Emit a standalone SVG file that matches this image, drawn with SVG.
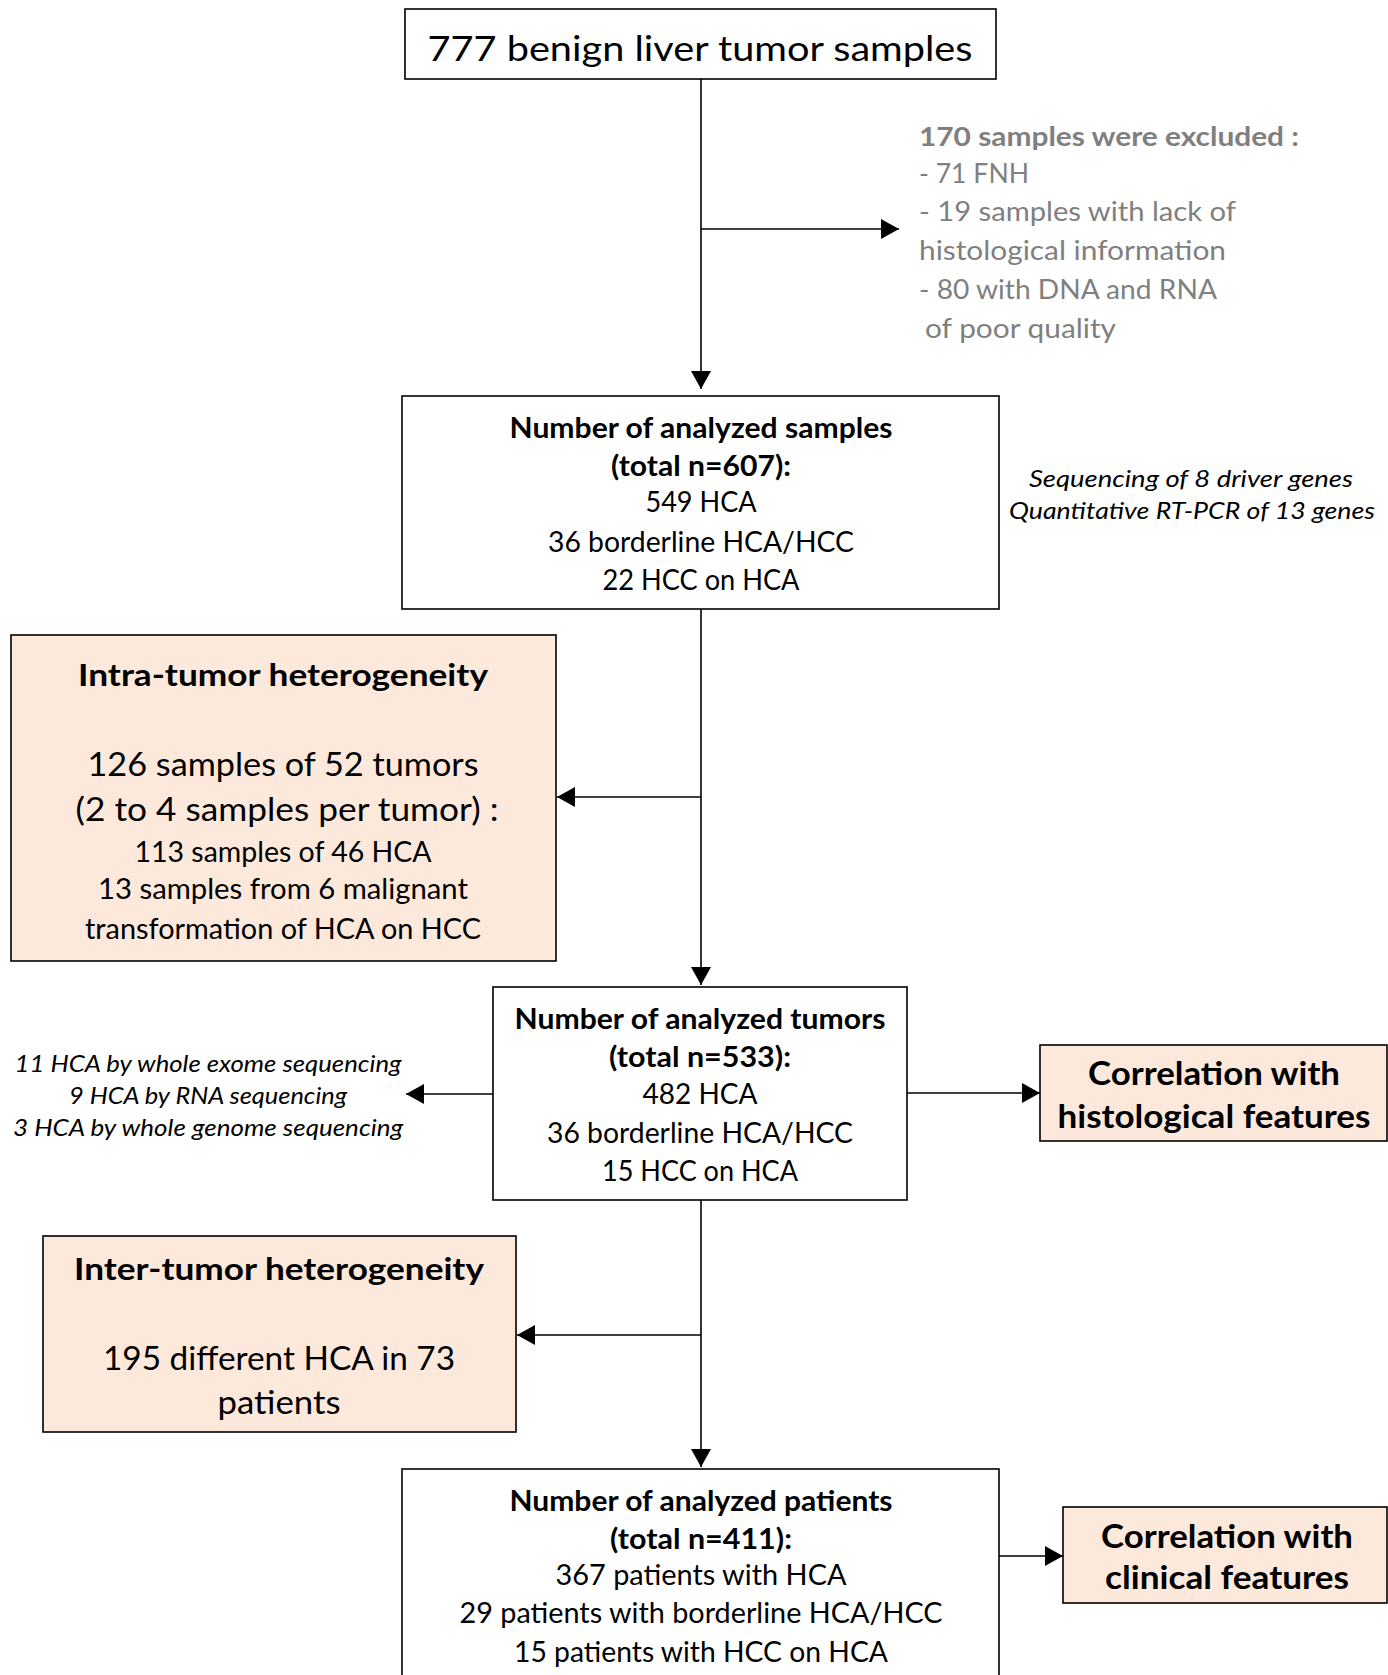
<svg xmlns="http://www.w3.org/2000/svg" width="1388" height="1675" viewBox="0 0 1388 1675">
<style>
text{font-family:Lato,"Liberation Sans",sans-serif;fill:#000;text-anchor:middle}
.b{font-weight:bold}
.i{font-style:italic}
.g{fill:#7f7f7f;text-anchor:start}
.box{fill:#fff;stroke:#000;stroke-width:1.6}
.pk{fill:#fce9db;stroke:#000;stroke-width:1.6}
.c{stroke:#000;stroke-width:1.6;fill:none;marker-end:url(#ah)}
</style>
<defs>
<marker id="ah" markerUnits="userSpaceOnUse" markerWidth="20" markerHeight="22" refX="18" refY="10" orient="auto">
<path d="M0,0 L18,10 L0,20 z" fill="#000"/>
</marker>
</defs>
<g id="connectors">
<path class="c" d="M701,79 V389"/>
<path class="c" d="M701,229 H899"/>
<path class="c" d="M701,609 V985"/>
<path class="c" d="M701,797 H557"/>
<path class="c" d="M493,1094 H406"/>
<path class="c" d="M907,1093 H1040"/>
<path class="c" d="M701,1200 V1467"/>
<path class="c" d="M701,1335 H517"/>
<path class="c" d="M999,1556 H1063"/>
</g>
<g id="n-start">
<rect class="box" x="405" y="9" width="591" height="70"/>
<text x="700" y="61" font-size="35" textLength="545" lengthAdjust="spacingAndGlyphs">777 benign liver tumor samples</text>
</g>
<g id="n-excluded">
<text class="g b" x="919" y="146" font-size="26" textLength="380" lengthAdjust="spacingAndGlyphs">170 samples were excluded :</text>
<text class="g" x="919" y="183" font-size="26" textLength="110" lengthAdjust="spacingAndGlyphs">- 71 FNH</text>
<text class="g" x="919" y="221" font-size="26" textLength="317" lengthAdjust="spacingAndGlyphs">- 19 samples with lack of</text>
<text class="g" x="919" y="260" font-size="26" textLength="307" lengthAdjust="spacingAndGlyphs">histological information</text>
<text class="g" x="919" y="299" font-size="26" textLength="298" lengthAdjust="spacingAndGlyphs">- 80 with DNA and RNA</text>
<text class="g" x="925" y="338" font-size="26" textLength="191" lengthAdjust="spacingAndGlyphs">of poor quality</text>
</g>
<g id="n-samples">
<rect class="box" x="402" y="396" width="597" height="213"/>
<text class="b" x="701" y="438" font-size="28" textLength="383" lengthAdjust="spacingAndGlyphs">Number of analyzed samples</text>
<text class="b" x="701" y="476" font-size="28" textLength="180" lengthAdjust="spacingAndGlyphs">(total n=607):</text>
<text x="701" y="512" font-size="29" textLength="111" lengthAdjust="spacingAndGlyphs">549 HCA</text>
<text x="701" y="552" font-size="29" textLength="306" lengthAdjust="spacingAndGlyphs">36 borderline HCA/HCC</text>
<text x="701" y="590" font-size="29" textLength="197" lengthAdjust="spacingAndGlyphs">22 HCC on HCA</text>
</g>
<g id="n-seq">
<text class="i" x="1191" y="487" font-size="23" textLength="324" lengthAdjust="spacingAndGlyphs">Sequencing of 8 driver genes</text>
<text class="i" x="1192" y="519" font-size="23" textLength="366" lengthAdjust="spacingAndGlyphs">Quantitative RT-PCR of 13 genes</text>
</g>
<g id="n-intra">
<rect class="pk" x="11" y="635" width="545" height="326"/>
<text class="b" x="283" y="686" font-size="31" textLength="410" lengthAdjust="spacingAndGlyphs">Intra-tumor heterogeneity</text>
<text x="283" y="776" font-size="33" textLength="391" lengthAdjust="spacingAndGlyphs">126 samples of 52 tumors</text>
<text x="287" y="821" font-size="33" textLength="423" lengthAdjust="spacingAndGlyphs">(2 to 4 samples per tumor) :</text>
<text x="283" y="862" font-size="29" textLength="297" lengthAdjust="spacingAndGlyphs">113 samples of 46 HCA</text>
<text x="283" y="899" font-size="29" textLength="370" lengthAdjust="spacingAndGlyphs">13 samples from 6 malignant</text>
<text x="283" y="939" font-size="29" textLength="396" lengthAdjust="spacingAndGlyphs">transformation of HCA on HCC</text>
</g>
<g id="n-tumors">
<rect class="box" x="493" y="987" width="414" height="213"/>
<text class="b" x="700" y="1029" font-size="28" textLength="371" lengthAdjust="spacingAndGlyphs">Number of analyzed tumors</text>
<text class="b" x="700" y="1067" font-size="28" textLength="182" lengthAdjust="spacingAndGlyphs">(total n=533):</text>
<text x="700" y="1104" font-size="29" textLength="115" lengthAdjust="spacingAndGlyphs">482 HCA</text>
<text x="700" y="1143" font-size="29" textLength="306" lengthAdjust="spacingAndGlyphs">36 borderline HCA/HCC</text>
<text x="700" y="1181" font-size="29" textLength="196" lengthAdjust="spacingAndGlyphs">15 HCC on HCA</text>
</g>
<g id="n-wes">
<text class="i" x="208" y="1072" font-size="23" textLength="387" lengthAdjust="spacingAndGlyphs">11 HCA by whole exome sequencing</text>
<text class="i" x="208" y="1104" font-size="23" textLength="278" lengthAdjust="spacingAndGlyphs">9 HCA by RNA sequencing</text>
<text class="i" x="208" y="1136" font-size="23" textLength="390" lengthAdjust="spacingAndGlyphs">3 HCA by whole genome sequencing</text>
</g>
<g id="n-histo">
<rect class="pk" x="1040" y="1045" width="347" height="96"/>
<text class="b" x="1214" y="1085" font-size="33" textLength="252" lengthAdjust="spacingAndGlyphs">Correlation with</text>
<text class="b" x="1214" y="1128" font-size="33" textLength="313" lengthAdjust="spacingAndGlyphs">histological features</text>
</g>
<g id="n-inter">
<rect class="pk" x="43" y="1236" width="473" height="196"/>
<text class="b" x="279" y="1280" font-size="31" textLength="410" lengthAdjust="spacingAndGlyphs">Inter-tumor heterogeneity</text>
<text x="279" y="1370" font-size="33" textLength="352" lengthAdjust="spacingAndGlyphs">195 different HCA in 73</text>
<text x="279" y="1414" font-size="33" textLength="123" lengthAdjust="spacingAndGlyphs">patients</text>
</g>
<g id="n-patients">
<rect class="box" x="402" y="1469" width="597" height="230"/>
<text class="b" x="701" y="1511" font-size="28" textLength="383" lengthAdjust="spacingAndGlyphs">Number of analyzed patients</text>
<text class="b" x="701" y="1549" font-size="28" textLength="182" lengthAdjust="spacingAndGlyphs">(total n=411):</text>
<text x="701" y="1585" font-size="29" textLength="291" lengthAdjust="spacingAndGlyphs">367 patients with HCA</text>
<text x="701" y="1623" font-size="29" textLength="483" lengthAdjust="spacingAndGlyphs">29 patients with borderline HCA/HCC</text>
<text x="701" y="1662" font-size="29" textLength="374" lengthAdjust="spacingAndGlyphs">15 patients with HCC on HCA</text>
</g>
<g id="n-clinical">
<rect class="pk" x="1063" y="1507" width="324" height="96"/>
<text class="b" x="1227" y="1548" font-size="33" textLength="252" lengthAdjust="spacingAndGlyphs">Correlation with</text>
<text class="b" x="1227" y="1589" font-size="33" textLength="244" lengthAdjust="spacingAndGlyphs">clinical features</text>
</g>
</svg>
